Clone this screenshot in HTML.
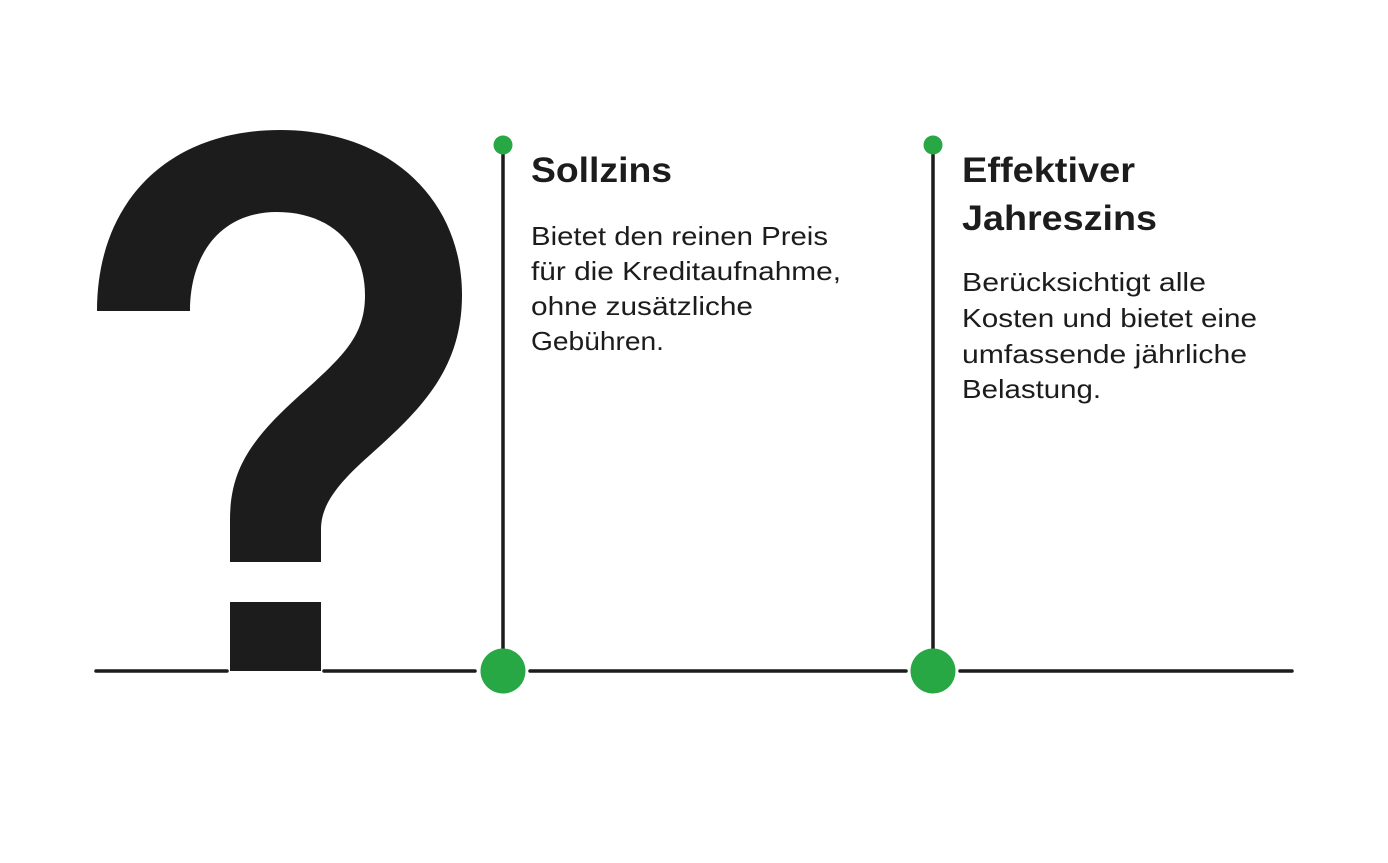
<!DOCTYPE html>
<html><head><meta charset="utf-8"><style>
html,body{margin:0;padding:0;background:#fff;}
svg{display:block;}
text{font-family:"Liberation Sans",sans-serif;fill:#1c1c1c;}
.t{font-weight:bold;font-size:35px;}
.b{font-size:26px;}
</style></head><body>
<svg width="1388" height="863" viewBox="0 0 1388 863">
<path fill="#1c1c1c" d="M97,311 C97,200 170,130 280,130 C390,130 462,200 462,295 C462,370 420,410 370,455 C330,490 321,510 321,530 L321,562 L230,562 L230,520 C230,470 250,440 300,395 C345,355 365,335 365,295 C365,245 330,212 277,212 C220,212 190,255 190,311 Z"/>
<rect x="230" y="602" width="91" height="69" fill="#1c1c1c"/>
<g stroke="#1c1c1c" stroke-width="3.5" stroke-linecap="round">
<line x1="96" y1="671" x2="227" y2="671"/>
<line x1="324" y1="671" x2="475" y2="671"/>
<line x1="530" y1="671" x2="906" y2="671"/>
<line x1="960" y1="671" x2="1292" y2="671"/>
<line x1="503" y1="145" x2="503" y2="650"/>
<line x1="933" y1="145" x2="933" y2="650"/>
</g>
<g fill="#28a745">
<circle cx="503" cy="671" r="22.5"/>
<circle cx="933" cy="671" r="22.5"/>
<circle cx="503" cy="145" r="9.5"/>
<circle cx="933" cy="145" r="9.5"/>
</g>
<text class="t" x="531" y="182" textLength="141" lengthAdjust="spacingAndGlyphs">Sollzins</text>
<text class="b" x="531" y="245" textLength="297" lengthAdjust="spacingAndGlyphs">Bietet den reinen Preis</text>
<text class="b" x="531" y="280" textLength="310" lengthAdjust="spacingAndGlyphs">für die Kreditaufnahme,</text>
<text class="b" x="531" y="315" textLength="222" lengthAdjust="spacingAndGlyphs">ohne zusätzliche</text>
<text class="b" x="531" y="350" textLength="133" lengthAdjust="spacingAndGlyphs">Gebühren.</text>
<text class="t" x="962" y="182" textLength="173" lengthAdjust="spacingAndGlyphs">Effektiver</text>
<text class="t" x="962" y="230" textLength="195" lengthAdjust="spacingAndGlyphs">Jahreszins</text>
<text class="b" x="962" y="291" textLength="244" lengthAdjust="spacingAndGlyphs">Berücksichtigt alle</text>
<text class="b" x="962" y="327" textLength="295" lengthAdjust="spacingAndGlyphs">Kosten und bietet eine</text>
<text class="b" x="962" y="363" textLength="285" lengthAdjust="spacingAndGlyphs">umfassende jährliche</text>
<text class="b" x="962" y="398" textLength="139" lengthAdjust="spacingAndGlyphs">Belastung.</text>
</svg>
</body></html>
